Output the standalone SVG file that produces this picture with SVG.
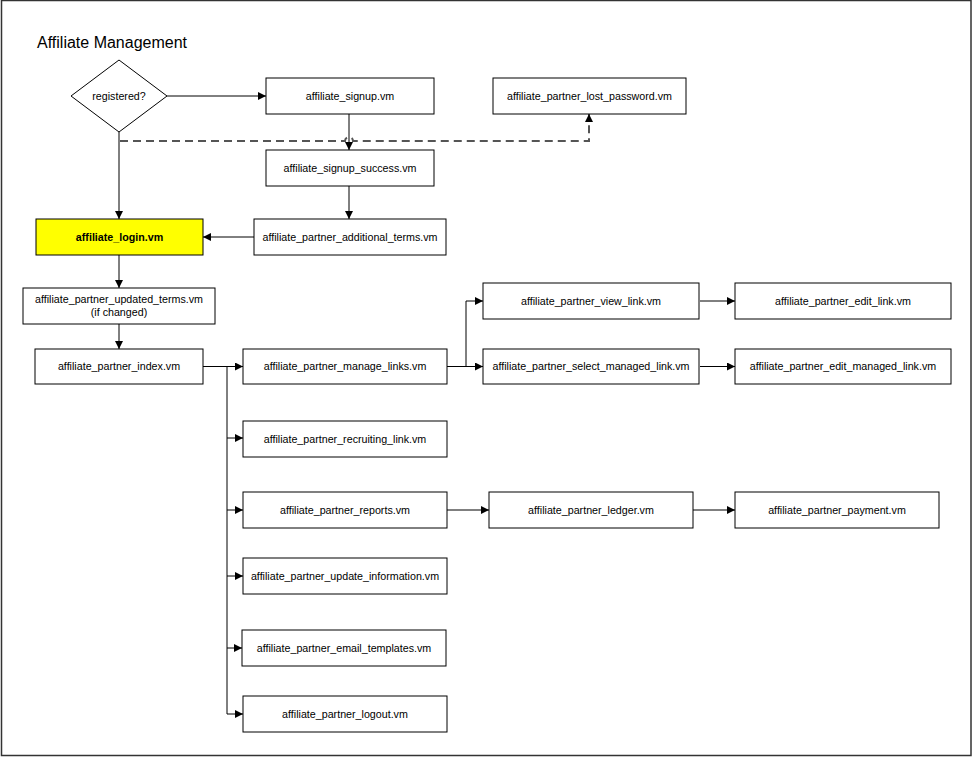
<svg xmlns="http://www.w3.org/2000/svg" width="973" height="757" viewBox="0 0 973 757">
<defs>
<marker id="ah" viewBox="0 0 10 10" refX="10" refY="5" markerWidth="8" markerHeight="8" markerUnits="userSpaceOnUse" orient="auto">
<path d="M0,0 L10,5 L0,10 Z" fill="#000"/>
</marker>
<style>
.box{fill:#fff;stroke:#000;stroke-width:1}
.t{font-family:"Liberation Sans",Arial,sans-serif;font-size:10.7px;fill:#000;text-anchor:middle}
.c{fill:none;stroke:#000;stroke-width:1}
.d{fill:none;stroke:#555;stroke-width:2;stroke-dasharray:8,5}
</style>
</defs>
<rect x="1.5" y="0.5" width="969.5" height="755" fill="#fff" stroke="#333" stroke-width="1.5"/>
<text x="37" y="48" style="font-family:'Liberation Sans',Arial,sans-serif;font-size:16px;fill:#000">Affiliate Management</text>

<g id="connectors">
<path class="c" d="M167,96 H266" marker-end="url(#ah)"/>
<path class="c" d="M119,132 V219" marker-end="url(#ah)"/>
<path class="c" d="M349,114 V150" marker-end="url(#ah)"/>
<path class="d" d="M120,141 H345 A4,4 0 0 1 353,141 H589 V114" marker-end="url(#ah)"/>
<path class="c" d="M349,186 V219" marker-end="url(#ah)"/>
<path class="c" d="M254,237 H203" marker-end="url(#ah)"/>
<path class="c" d="M119,255 V288" marker-end="url(#ah)"/>
<path class="c" d="M119,324 V349" marker-end="url(#ah)"/>
<path class="c" d="M203,366.5 H243" stroke-width="2" marker-end="url(#ah)"/>
<path class="c" d="M227,366.5 V648" stroke-width="2"/>
<path class="c" d="M227,648 V714"/>
<path class="c" d="M227,438 H243" marker-end="url(#ah)"/>
<path class="c" d="M227,510 H243" marker-end="url(#ah)"/>
<path class="c" d="M227,576 H243" marker-end="url(#ah)"/>
<path class="c" d="M227,648 H242" marker-end="url(#ah)"/>
<path class="c" d="M227,714 H243" marker-end="url(#ah)"/>
<path class="c" d="M447,366.5 H483" marker-end="url(#ah)"/>
<path class="c" d="M466,366.5 V301 H483" marker-end="url(#ah)"/>
<path class="c" d="M700,301 H735" marker-end="url(#ah)"/>
<path class="c" d="M700,366.5 H735" marker-end="url(#ah)"/>
<path class="c" d="M447,510 H489" marker-end="url(#ah)"/>
<path class="c" d="M693,510 H735" marker-end="url(#ah)"/>
</g>

<g id="registered">
<polygon class="box" points="119,60 167,96 119,132 71,96"/>
<text class="t" x="119" y="100">registered?</text>
</g>
<g id="signup">
<rect class="box" x="266" y="78" width="168" height="36"/>
<text class="t" x="350" y="100">affiliate_signup.vm</text>
</g>
<g id="lost_password">
<rect class="box" x="493" y="78" width="193" height="36"/>
<text class="t" x="589.5" y="100">affiliate_partner_lost_password.vm</text>
</g>
<g id="signup_success">
<rect class="box" x="266" y="150" width="168" height="36"/>
<text class="t" x="350" y="172">affiliate_signup_success.vm</text>
</g>
<g id="additional_terms">
<rect class="box" x="254" y="219" width="192" height="36"/>
<text class="t" x="350" y="241">affiliate_partner_additional_terms.vm</text>
</g>
<g id="login">
<rect x="36" y="219" width="167" height="36" fill="#ffff00" stroke="#000"/>
<text class="t" x="119.5" y="241" font-weight="bold">affiliate_login.vm</text>
</g>
<g id="updated_terms">
<rect class="box" x="23" y="288" width="192" height="36"/>
<text class="t" x="119" y="303">affiliate_partner_updated_terms.vm</text>
<text class="t" x="119" y="316">(if changed)</text>
</g>
<g id="index">
<rect class="box" x="35" y="349" width="168" height="35"/>
<text class="t" x="119" y="370">affiliate_partner_index.vm</text>
</g>
<g id="manage_links">
<rect class="box" x="243" y="349" width="204" height="35"/>
<text class="t" x="345" y="370">affiliate_partner_manage_links.vm</text>
</g>
<g id="view_link">
<rect class="box" x="483" y="283" width="216" height="36"/>
<text class="t" x="591" y="305">affiliate_partner_view_link.vm</text>
</g>
<g id="edit_link">
<rect class="box" x="735" y="283" width="216" height="36"/>
<text class="t" x="843" y="305">affiliate_partner_edit_link.vm</text>
</g>
<g id="select_managed_link">
<rect class="box" x="483" y="349" width="216" height="35"/>
<text class="t" x="591" y="370">affiliate_partner_select_managed_link.vm</text>
</g>
<g id="edit_managed_link">
<rect class="box" x="735" y="349" width="216" height="35"/>
<text class="t" x="843" y="370">affiliate_partner_edit_managed_link.vm</text>
</g>
<g id="recruiting_link">
<rect class="box" x="243" y="421" width="204" height="36"/>
<text class="t" x="345" y="443">affiliate_partner_recruiting_link.vm</text>
</g>
<g id="reports">
<rect class="box" x="243" y="492" width="204" height="36"/>
<text class="t" x="345" y="514">affiliate_partner_reports.vm</text>
</g>
<g id="ledger">
<rect class="box" x="489" y="492" width="204" height="36"/>
<text class="t" x="591" y="514">affiliate_partner_ledger.vm</text>
</g>
<g id="payment">
<rect class="box" x="735" y="492" width="204" height="36"/>
<text class="t" x="837" y="514">affiliate_partner_payment.vm</text>
</g>
<g id="update_information">
<rect class="box" x="243" y="558" width="204" height="36"/>
<text class="t" x="345" y="580">affiliate_partner_update_information.vm</text>
</g>
<g id="email_templates">
<rect class="box" x="242" y="630" width="204" height="36"/>
<text class="t" x="344" y="652">affiliate_partner_email_templates.vm</text>
</g>
<g id="logout">
<rect class="box" x="243" y="696" width="204" height="36"/>
<text class="t" x="345" y="718">affiliate_partner_logout.vm</text>
</g>
</svg>
